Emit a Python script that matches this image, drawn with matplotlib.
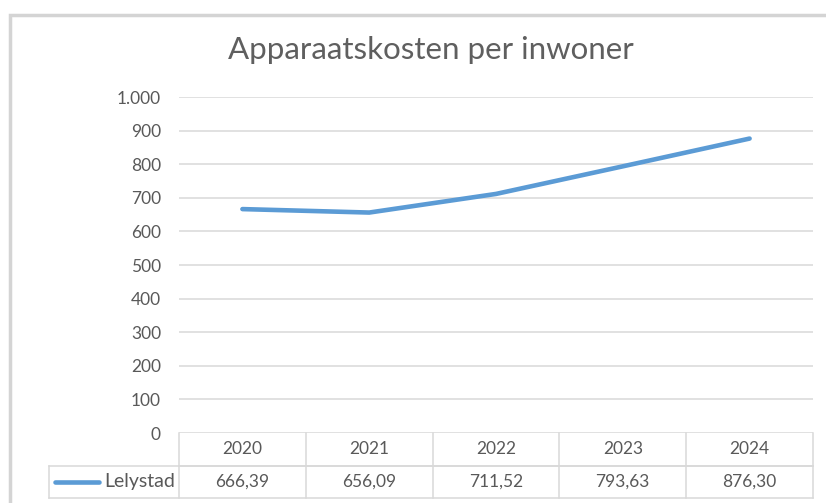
import matplotlib
matplotlib.use("Agg")
import matplotlib.pyplot as plt
from matplotlib.patches import Rectangle
from matplotlib.lines import Line2D
import matplotlib.transforms as mtransforms

# data
years = ["2020", "2021", "2022", "2023", "2024"]
lelystad = [666.39, 656.09, 711.52, 793.63, 876.30]
series_name = "Lelystad"
title = "Apparaatskosten per inwoner"
yticks = [0, 100, 200, 300, 400, 500, 600, 700, 800, 900, 1000]

plt.rcParams['font.family'] = ['Lato', 'DejaVu Sans']

W, H = 826, 503
fig = plt.figure(figsize=(W / 100, H / 100), dpi=100)
fig.patch.set_facecolor("white")

# outer chart frame (runs past right/bottom edge)
frame = Rectangle((9.5 / W, -0.05), 1.1, 1 - 14.5 / H + 0.05, transform=fig.transFigure,
                  fill=False, edgecolor="#d4d4d4", linewidth=2.5, zorder=0)
fig.patches.append(frame)

left, right, top, bottom = 179, 813, 97, 433
ax = fig.add_axes([left / W, 1 - bottom / H, (right - left) / W, (bottom - top) / H])

grey = "#595959"
gridc = "#d9d9d9"
blue = "#5b9bd5"
fs = 12.5

x = list(range(len(years)))
ax.plot(x, lelystad, color=blue, linewidth=3.3, solid_capstyle="round", zorder=3)

ax.set_xlim(-0.5, len(years) - 0.5)
ax.set_ylim(0, 1000)
ax.set_yticks(yticks)
ax.set_yticklabels([f"{v:,}".replace(",", ".") for v in yticks], fontsize=fs, color=grey)
ax.tick_params(axis="y", length=0, pad=13)
ax.set_xticks([])
ax.grid(axis="y", color=gridc, linewidth=1.1)
ax.set_axisbelow(True)
for s in ax.spines.values():
    s.set_visible(False)

fig.text(431 / W, 1 - 50 / H, title, ha="center", va="center", fontsize=22.5,
         color="#5f5f5f")

# data table below the plot (x in data coords, y in axes fraction)
tr = mtransforms.blended_transform_factory(ax.transData, ax.transAxes)
ph = bottom - top
row1 = -33 / ph
row2 = -65 / ph
colw = (right - left) / len(years)
first_left = -0.5 - (left - 49) / colw

lk = dict(transform=tr, color=gridc, linewidth=1.1, clip_on=False)
ax.add_line(Line2D([-0.5, len(years) - 0.5], [row1, row1], **lk))
ax.add_line(Line2D([first_left, len(years) - 0.5], [row1, row1], **lk))
ax.add_line(Line2D([first_left, len(years) - 0.5], [row2, row2], **lk))
ax.add_line(Line2D([first_left, first_left], [row1, row2], **lk))
for i in range(len(years) + 1):
    ax.add_line(Line2D([i - 0.5, i - 0.5], [0, row2], **lk))

for i, (yr, v) in enumerate(zip(years, lelystad)):
    ax.text(i, row1 / 2, yr, transform=tr, ha="center", va="center", fontsize=fs, color=grey)
    ax.text(i, (row1 + row2) / 2, f"{v:.2f}".replace(".", ","), transform=tr,
            ha="center", va="center", fontsize=fs, color=grey)

# legend key inside the table
key_x0 = first_left + 6 / colw
key_x1 = first_left + 50 / colw
ym = (row1 + row2) / 2
ax.add_line(Line2D([key_x0, key_x1], [ym, ym], transform=tr, color=blue, linewidth=3.3,
                   solid_capstyle="round", clip_on=False))
ax.text(-0.5 - 4 / colw, ym, series_name, transform=tr, ha="right", va="center",
        fontsize=14, color=grey)

fig.savefig("out.png", dpi=100)
